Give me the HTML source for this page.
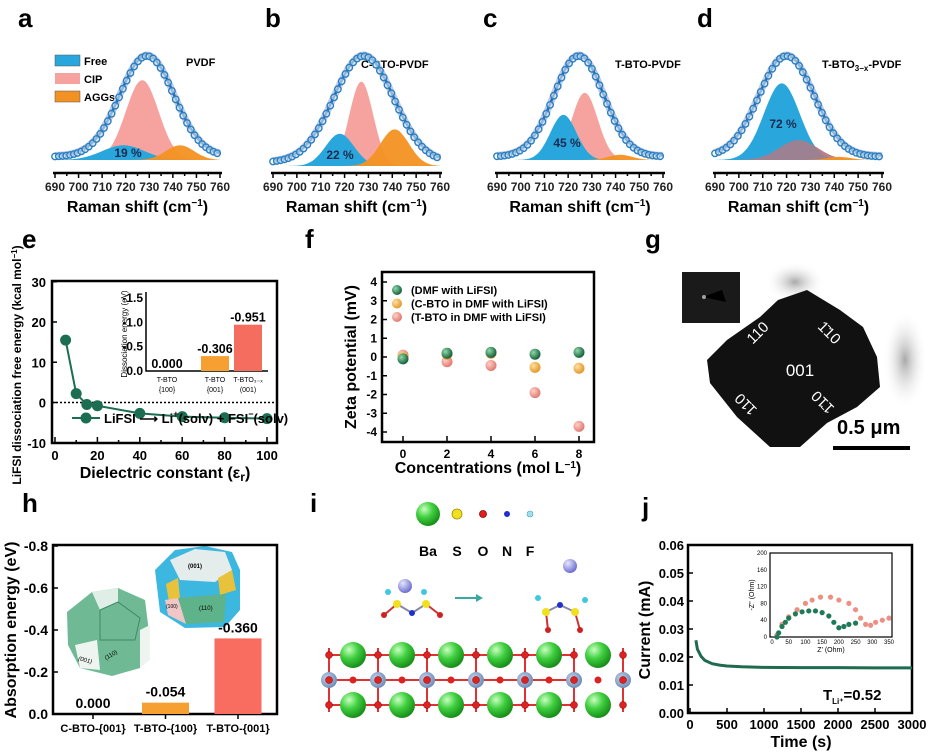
<!DOCTYPE html>
<html><head><meta charset="utf-8"><style>
html,body{margin:0;padding:0;background:#fff;}
svg{display:block;font-family:"Liberation Sans",Arial,sans-serif;}
.b{font-weight:bold;}
</style></head><body>
<svg id="fig" width="930" height="752" viewBox="0 0 930 752" xmlns="http://www.w3.org/2000/svg">
<defs>
<radialGradient id="gG" cx="35%" cy="35%" r="65%"><stop offset="0" stop-color="#8fd9a8"/><stop offset="1" stop-color="#17613f"/></radialGradient>
<radialGradient id="gO" cx="35%" cy="35%" r="65%"><stop offset="0" stop-color="#ffe0a0"/><stop offset="1" stop-color="#e29a2e"/></radialGradient>
<radialGradient id="gR" cx="35%" cy="35%" r="65%"><stop offset="0" stop-color="#ffd0c8"/><stop offset="1" stop-color="#e07c74"/></radialGradient>
<radialGradient id="ba" cx="35%" cy="30%" r="70%"><stop offset="0" stop-color="#c8ffc0"/><stop offset="0.5" stop-color="#3fcf3f"/><stop offset="1" stop-color="#1a8f1a"/></radialGradient>
<radialGradient id="li" cx="35%" cy="30%" r="70%"><stop offset="0" stop-color="#e6e6ff"/><stop offset="1" stop-color="#6f6fd0"/></radialGradient>
<radialGradient id="ti" cx="40%" cy="40%" r="60%"><stop offset="0" stop-color="#c9d8ee"/><stop offset="1" stop-color="#6f8db8"/></radialGradient>
<radialGradient id="blob" cx="50%" cy="50%" r="50%"><stop offset="0" stop-color="#a8a8a8"/><stop offset="1" stop-color="#ffffff" stop-opacity="0"/></radialGradient>
</defs>

<text x="18" y="27" font-size="26" class="b">a</text>
<text x="265" y="27" font-size="26" class="b">b</text>
<text x="483" y="27" font-size="26" class="b">c</text>
<text x="697" y="27" font-size="26" class="b">d</text>
<text x="22" y="248" font-size="26" class="b">e</text>
<text x="305" y="248" font-size="26" class="b">f</text>
<text x="645" y="248" font-size="26" class="b">g</text>
<text x="22" y="512" font-size="26" class="b">h</text>
<text x="310" y="512" font-size="26" class="b">i</text>
<text x="642" y="516" font-size="26" class="b">j</text>

<text x="186" y="66" font-size="11" class="b">PVDF</text>
<text x="361" y="68" font-size="11" class="b">C-BTO-PVDF</text>
<text x="615" y="68" font-size="11" class="b">T-BTO-PVDF</text>
<text x="822" y="68" font-size="11" class="b">T-BTO<tspan font-size="8" dy="3">3−x</tspan><tspan dy="-3">-PVDF</tspan></text>
<rect x="55" y="55" width="25" height="11" fill="#29a7dc" stroke="#555" stroke-width="0.5"/>
<text x="84" y="65" font-size="11" class="b">Free</text>
<rect x="55" y="73" width="25" height="11" fill="#f6a39f"/>
<text x="84" y="83" font-size="11" class="b">CIP</text>
<rect x="55" y="91" width="25" height="11" fill="#f39222" stroke="#555" stroke-width="0.5"/>
<text x="84" y="101" font-size="11" class="b">AGGs</text>

<text transform="translate(21,365) rotate(-90)" text-anchor="middle" font-size="12" class="b">LiFSI dissociation free energy (kcal mol<tspan dy="-4" font-size="8">−1</tspan><tspan dy="4">)</tspan></text>
<text x="165" y="478" text-anchor="middle" font-size="16" class="b">Dielectric constant (ε<tspan font-size="12" dy="3">r</tspan><tspan dy="-3">)</tspan></text>
<text x="127" y="334" transform="rotate(-90 127 334)" text-anchor="middle" font-size="8">Dissociation energy (eV)</text>

<text transform="translate(356,357) rotate(-90)" text-anchor="middle" font-size="16" class="b">Zeta potential (mV)</text>
<text x="488" y="473" text-anchor="middle" font-size="16" class="b">Concentrations (mol L<tspan dy="-5" font-size="10">−1</tspan><tspan dy="5">)</tspan></text>

<g>
<ellipse cx="795" cy="282" rx="30" ry="20" fill="url(#blob)"/>
<ellipse cx="905" cy="360" rx="22" ry="50" fill="url(#blob)"/>
<polygon points="778,300 807,290 840,310 863,327 877,357 880,387 857,407 827,423 800,447 770,447 737,417 710,383 707,360 727,340 760,317" fill="#111"/>
<rect x="682" y="272" width="58" height="51" fill="#1a1a1a"/>
<polygon points="703,297 722,290 726,302" fill="#000"/>
<circle cx="704" cy="297" r="2" fill="#fff" opacity="0.6"/>
<text x="800" y="376" text-anchor="middle" font-size="17" fill="#fff">001</text>
<text x="757" y="338" text-anchor="middle" font-size="15" fill="#fff" transform="rotate(-45 757 332)">110</text>
<text x="830" y="338" text-anchor="middle" font-size="15" fill="#fff" transform="rotate(45 830 332)">1̄10</text>
<text x="745" y="411" text-anchor="middle" font-size="15" fill="#fff" transform="rotate(225 745 405)">110</text>
<text x="822" y="409" text-anchor="middle" font-size="15" fill="#fff" transform="rotate(-135 822 403)">1̄10</text>
<text x="837" y="434" font-size="20" class="b" fill="#000">0.5 μm</text>
<rect x="833" y="446" width="77" height="4" fill="#000"/>
</g>

<text transform="translate(16,630) rotate(-90)" text-anchor="middle" font-size="16" class="b">Absorption energy (eV)</text>
<g>
<polygon points="67,612 92,592 118,588 145,600 150,640 140,668 112,676 80,668 68,645" fill="#5fb38a" opacity="0.9"/>
<polygon points="92,592 118,588 118,602 100,610" fill="#dfeee6"/>
<polygon points="75,645 97,640 100,670 80,668" fill="#eef5f0"/>
<polygon points="140,630 150,625 150,660 140,668" fill="#eef5f0"/>
<polyline points="100,610 118,602 140,618 135,640 100,640 100,610" fill="none" stroke="#3f8a67" stroke-width="1"/>
<text x="78" y="660" font-size="6" font-style="italic" transform="rotate(15 78 660)">(001)</text>
<text x="106" y="660" font-size="6" transform="rotate(-30 106 660)">(110)</text>
</g>
<g>
<polygon points="155,570 175,550 205,546 232,552 240,570 240,610 225,627 185,628 160,612" fill="#3cb7e0"/>
<polygon points="170,560 195,549 225,552 232,570 215,582 180,580" fill="#e5ecec"/>
<polygon points="166,584 178,578 180,598 170,608" fill="#e8c23a"/>
<polygon points="218,578 232,570 236,590 220,595" fill="#e8c23a"/>
<polygon points="178,598 226,594 224,622 186,624" fill="#5fb38a"/>
<polygon points="165,600 178,598 186,624 168,615" fill="#f1c6c6"/>
<text x="188" y="568" font-size="6" class="b">(001)</text>
<text x="166" y="608" font-size="5">(100)</text>
<text x="199" y="610" font-size="6">(110)</text>
</g>

<g>
<circle cx="428" cy="514" r="12" fill="url(#ba)"/>
<circle cx="457" cy="514" r="5" fill="#f0e020" stroke="#a09000" stroke-width="0.8"/>
<circle cx="483" cy="514" r="3.5" fill="#e02020" stroke="#800" stroke-width="0.8"/>
<circle cx="507" cy="514" r="3" fill="#2030d0"/>
<circle cx="530" cy="514" r="3" fill="#9fe0f0" stroke="#59a" stroke-width="0.6"/>
<text x="428" y="556" text-anchor="middle" font-size="14" class="b">Ba</text>
<text x="457" y="556" text-anchor="middle" font-size="14" class="b">S</text>
<text x="483" y="556" text-anchor="middle" font-size="14" class="b">O</text>
<text x="507" y="556" text-anchor="middle" font-size="14" class="b">N</text>
<text x="530" y="556" text-anchor="middle" font-size="14" class="b">F</text>
</g>
<g>
<line x1="384" y1="615" x2="397" y2="604" stroke="#c33" stroke-width="2"/>
<line x1="397" y1="604" x2="412" y2="613" stroke="#88a" stroke-width="2"/>
<line x1="412" y1="613" x2="426" y2="604" stroke="#88a" stroke-width="2"/>
<line x1="426" y1="604" x2="440" y2="615" stroke="#c33" stroke-width="2"/>
<circle cx="405" cy="586" r="7" fill="url(#li)"/>
<circle cx="388" cy="592" r="3" fill="#40c8e0"/><circle cx="424" cy="592" r="3" fill="#40c8e0"/>
<circle cx="397" cy="604" r="4" fill="#f0e020"/><circle cx="426" cy="604" r="4" fill="#f0e020"/>
<circle cx="412" cy="613" r="3" fill="#2030d0"/>
<circle cx="384" cy="615" r="3" fill="#d02020"/><circle cx="440" cy="615" r="3" fill="#d02020"/>
</g>
<line x1="455" y1="598" x2="476" y2="598" stroke="#3aa8a0" stroke-width="2"/>
<polygon points="476,594 483,598 476,602" fill="#3aa8a0"/>
<g>
<circle cx="570" cy="566" r="7" fill="url(#li)"/>
<line x1="546" y1="612" x2="548" y2="630" stroke="#c33" stroke-width="2"/>
<line x1="546" y1="612" x2="560" y2="605" stroke="#88a" stroke-width="2"/>
<line x1="560" y1="605" x2="575" y2="612" stroke="#88a" stroke-width="2"/>
<line x1="575" y1="612" x2="580" y2="630" stroke="#c33" stroke-width="2"/>
<circle cx="538" cy="598" r="3" fill="#40c8e0"/><circle cx="585" cy="600" r="3" fill="#40c8e0"/>
<circle cx="546" cy="612" r="4" fill="#f0e020"/><circle cx="575" cy="612" r="4" fill="#f0e020"/>
<circle cx="560" cy="605" r="3" fill="#2030d0"/>
<circle cx="548" cy="630" r="3" fill="#d02020"/><circle cx="580" cy="630" r="3" fill="#d02020"/>
</g>
<g id="slab"></g>

<text transform="translate(650,630) rotate(-90)" text-anchor="middle" font-size="16" class="b">Current (mA)</text>
<text x="801" y="747" text-anchor="middle" font-size="16" class="b">Time (s)</text>
<text x="823" y="700" font-size="15" class="b">T<tspan font-size="8" dy="4">Li⁺</tspan><tspan dy="-4">=0.52</tspan></text>
<text x="831" y="652" text-anchor="middle" font-size="7">Z' (Ohm)</text>
<text transform="translate(754,595) rotate(-90)" text-anchor="middle" font-size="7">-Z'' (Ohm)</text>
<circle cx="810" cy="565" r="2.5" fill="#1f7a58"/>
<text x="818" y="568" font-size="7.5" class="b">Before polarization</text>
<circle cx="810" cy="574" r="2.5" fill="#ee8f84"/>
<text x="818" y="577" font-size="7.5" class="b">After polarization</text>
</svg>

<script>
const NS='http://www.w3.org/2000/svg';
const svg=document.getElementById('fig');
function add(tag,attrs,text,parent){const e=document.createElementNS(NS,tag);for(const k in attrs)e.setAttribute(k,attrs[k]);if(text!==undefined)e.textContent=text;(parent||svg).appendChild(e);return e;}

/* ---------- panels a-d data ---------- */
const ramanTicks=[690,700,710,720,730,740,750,760];
const freeCenter=[719,718,718,718];
const freeSigma=[9,6,5.5,7.5];
const freeHeight=[0.14,0.29,0.43,0.73];
const cipCenter=[727,727,727,725];
const cipSigma=[7,5,5.5,8];
const cipHeight=[0.76,0.76,0.64,0.19];
const aggCenter=[743,741,742,742];
const aggSigma=[6,6,5,5];
const aggHeight=[0.14,0.33,0.05,0.03];
const envCenter=[729,728,724.5,720];
const envSigma=[11.5,12.5,10.5,11.5];
const freePercent=['19 %','22 %','45 %','72 %'];

const ramanLeft=[55,273,497,715],ramanRight=[220,440,663,882],ramanBase=[160,166,160,160];
const pctPos=[[128,157],[340,159],[567,147],[783,128]];
function gauss(x,c,s,h){return h*Math.exp(-0.5*((x-c)/s)**2);}
for(let p=0;p<4;p++){
  const sx=v=>ramanLeft[p]+(v-690)*(ramanRight[p]-ramanLeft[p])/70;
  const H=ramanBase[p]-55;
  const sy=v=>ramanBase[p]-v*H;
  function area(c,s,h){let d='M'+sx(690)+','+sy(0);for(let x=690;x<=760;x+=0.5)d+=' L'+sx(x).toFixed(1)+','+sy(gauss(x,c,s,h)).toFixed(1);d+=' L'+sx(760)+','+sy(0)+'Z';return d;}
  const env=x=>0.04+0.96*gauss(x,envCenter[p],envSigma[p],1);
  let d='';for(let x=690;x<=760;x+=0.5)d+=(d?' L':'M')+sx(x).toFixed(1)+','+sy(env(x)).toFixed(1);
  const fitBack=add('path',{d:d,fill:'none',stroke:'#bfcaeb','stroke-width':7});
  
  
  const cip=add('path',{d:area(cipCenter[p],cipSigma[p],cipHeight[p]),fill:'#f6a39f'});
  
  
  const fr=add('path',{d:area(freeCenter[p],freeSigma[p],freeHeight[p]),fill:'#29a7dc'});
  
  
  if(p===3){const c2=add('path',{d:area(cipCenter[p],cipSigma[p],cipHeight[p]),fill:'#b07a86',opacity:0.85});
    
    }
  const ag=add('path',{d:area(aggCenter[p],aggSigma[p],aggHeight[p]),fill:'#f39222',opacity:0.95});
  
  
  const fit=add('path',{d:d,fill:'none',stroke:'#1f6db3','stroke-width':2.5});
  
  
  for(let x=690;x<=760;x+=1.6){
    const c=add('circle',{cx:sx(x).toFixed(1),cy:(sy(env(x))+1).toFixed(1),r:3.2,fill:'#fff','fill-opacity':0.5,stroke:'#2a7fc0','stroke-width':1.4});
    
    
  }
  const pt=add('text',{x:pctPos[p][0],y:pctPos[p][1],'text-anchor':'middle','font-size':12,'font-weight':'bold',fill:'#1a2a50'},freePercent[p]);
  
  
  const ax=add('line',{x1:sx(690)-2,x2:sx(760)+2,y1:173,y2:173,stroke:'#000','stroke-width':2.5});
  
  
  for(let v=690;v<=760;v+=5){
    const t=add('line',{x1:sx(v),x2:sx(v),y1:173,y2:v%10===0?178:176,stroke:'#000','stroke-width':1.5});
    
    
  }
  ramanTicks.forEach(v=>{
    const t=add('text',{x:sx(v),y:191,'text-anchor':'middle','font-size':12,'font-weight':'bold',fill:'#222'},String(v));
    
    
  });
  const ti=add('text',{x:(sx(690)+sx(760))/2,y:212,'text-anchor':'middle','font-size':16,'font-weight':'bold'});
  ti.innerHTML='Raman shift (cm<tspan dy="-6" font-size="10">−1</tspan><tspan dy="6">)</tspan>';
  
  
}

/* ---------- panel e ---------- */
const eDielectric=[5,10,15,20,40,60,80,100];
const eEnergy=[15.5,2.2,-0.5,-0.8,-2.7,-3.5,-3.8,-4.0];
const eXTicks=[0,20,40,60,80,100];
const eYTicks=[30,20,10,0,-10];
const eInsetCats=[['T-BTO','{100}'],['T-BTO','{001}'],['T-BTO₃₋ₓ','(001)']];
const eInsetVals=[0.000,0.306,0.951];
const eInsetLabels=['0.000','-0.306','-0.951'];
const eInsetTicks=[1.5,1.0,0.5,0.0];
const xE=v=>55+v*2.12, yE=v=>402.5-v*4.025;
{
  const fr=add('rect',{x:52,y:281,width:225,height:162,fill:'none',stroke:'#000','stroke-width':2.5});
  
  
  const zl=add('line',{x1:52,x2:277,y1:yE(0),y2:yE(0),stroke:'#000','stroke-width':1.5,'stroke-dasharray':'2,2'});
  
  
  eYTicks.forEach(v=>{
    const t=add('text',{x:46,y:yE(v)+5,'text-anchor':'end','font-size':13,'font-weight':'bold'},String(v));
    
    
    const l=add('line',{x1:52,x2:57,y1:yE(v),y2:yE(v),stroke:'#000','stroke-width':1.5});
    
    
  });
  eXTicks.forEach(v=>{
    const t=add('text',{x:xE(v),y:460,'text-anchor':'middle','font-size':13,'font-weight':'bold'},String(v));
    
    
  });
  for(let v=0;v<=100;v+=10){const l=add('line',{x1:xE(v),x2:xE(v),y1:443,y2:v%20===0?437:440,stroke:'#000','stroke-width':1.5});
    
    }
  const ln=add('polyline',{points:eDielectric.map((d,i)=>xE(d)+','+yE(eEnergy[i])).join(' '),fill:'none',stroke:'#1b6e52','stroke-width':2});
  
  
  eDielectric.forEach((d,i)=>{const c=add('circle',{cx:xE(d),cy:yE(eEnergy[i]),r:5.5,fill:'#1b6e52'});
    
    });
  const lg=add('line',{x1:72,x2:100,y1:418,y2:418,stroke:'#1b6e52','stroke-width':2});
  
  
  const lm=add('circle',{cx:86,cy:418,r:5.5,fill:'#1b6e52'});
  
  
  const lt=add('text',{x:104,y:423,'font-size':13,'font-weight':'bold'});
  lt.innerHTML='LiFSI ⟶ Li<tspan dy="-6" font-size="9">+</tspan><tspan dy="6">(solv) + FSI</tspan><tspan dy="-6" font-size="9">−</tspan><tspan dy="6">(solv)</tspan>';
  
  
  const yI=v=>371-v*48.7; const xI=[167,215,248];
  const ib=add('polyline',{points:'146,292 146,371 268,371',fill:'none',stroke:'#000','stroke-width':1.5});
  
  
  eInsetTicks.forEach(v=>{
    const t=add('text',{x:143,y:yI(v)+4,'text-anchor':'end','font-size':12,'font-weight':'bold'},v===0?'0.0':'-'+v.toFixed(1));
    
    
  });
  const cols=['#f5a030','#f5a030','#f56d5e'];
  eInsetVals.forEach((v,i)=>{
    const r=add('rect',{x:xI[i]-14,y:yI(v),width:28,height:371-yI(v),fill:cols[i]});
    
    
    const t=add('text',{x:xI[i],y:yI(v)-3,'text-anchor':'middle','font-size':12.5,'font-weight':'bold'},eInsetLabels[i]);
    
    
    const c1=add('text',{x:xI[i],y:382,'text-anchor':'middle','font-size':7},eInsetCats[i][0]);
    
    
    const c2=add('text',{x:xI[i],y:392,'text-anchor':'middle','font-size':7},eInsetCats[i][1]);
    
    
  });
}

/* ---------- panel f ---------- */
const fConc=[0,2,4,6,8];
const fDMF=[-0.1,0.2,0.25,0.15,0.25];
const fCBTO=[0.0,0.15,0.2,-0.55,-0.6];
const fTBTO=[0.1,-0.25,-0.45,-1.9,-3.7];
const fYTicks=[4,3,2,1,0,-1,-2,-3,-4];
const fSeriesNames=['(DMF with LiFSI)','(C-BTO in DMF with LiFSI)','(T-BTO in DMF with LiFSI)'];
const xF=v=>403+v*22, yF=v=>357-v*18.75;
{
  const fr=add('rect',{x:382,y:272,width:212,height:170,fill:'none',stroke:'#000','stroke-width':2.5});
  
  
  fYTicks.forEach(v=>{
    const t=add('text',{x:377,y:yF(v)+4,'text-anchor':'end','font-size':12,'font-weight':'bold'},String(v));
    
    
    const l=add('line',{x1:382,x2:387,y1:yF(v),y2:yF(v),stroke:'#000','stroke-width':1.5});
    
    
  });
  fConc.forEach(v=>{
    const t=add('text',{x:xF(v),y:458,'text-anchor':'middle','font-size':12,'font-weight':'bold'},String(v));
    
    
    const l=add('line',{x1:xF(v),x2:xF(v),y1:442,y2:436,stroke:'#000','stroke-width':1.5});
    
    
  });
  const series=[[fTBTO,'url(#gR)'],[fCBTO,'url(#gO)'],[fDMF,'url(#gG)']];
  series.forEach(s=>{
    fConc.forEach((c,i)=>{
      const m=add('circle',{cx:xF(c),cy:yF(s[0][i]),r:5.5,fill:s[1]});
      
      
    });
  });
  const lfill=['url(#gG)','url(#gO)','url(#gR)'];
  fSeriesNames.forEach((n,i)=>{
    const m=add('circle',{cx:397,cy:290+i*13.5,r:5,fill:lfill[i]});
    
    
    const t=add('text',{x:411,y:294+i*13.5,'font-size':11,'font-weight':'bold'},n);
    
    
  });
}

/* ---------- panel h ---------- */
const hCats=['C-BTO-{001}','T-BTO-{100}','T-BTO-{001}'];
const hVals=[0.000,0.054,0.360];
const hLabels=['0.000','-0.054','-0.360'];
const hYTicks=[0.8,0.6,0.4,0.2,0.0];
const yH=v=>714-v*210; const xH=i=>93+i*72.5;
{
  const fr=add('rect',{x:53,y:545,width:224,height:169,fill:'none',stroke:'#000','stroke-width':2.5});
  
  
  hYTicks.forEach(v=>{
    const t=add('text',{x:48,y:yH(v)+5,'text-anchor':'end','font-size':14,'font-weight':'bold'},v===0?'0.0':'-'+v.toFixed(1));
    
    
    const l=add('line',{x1:53,x2:58,y1:yH(v),y2:yH(v),stroke:'#000','stroke-width':1.5});
    
    
  });
  const cols=['#f5a030','#f5a030','#f86d5f'];
  hCats.forEach((c,i)=>{
    const r=add('rect',{x:xH(i)-23.5,y:yH(hVals[i]),width:47,height:714-yH(hVals[i]),fill:cols[i]});
    
    
    const v=add('text',{x:xH(i),y:yH(hVals[i])-6,'text-anchor':'middle','font-size':14,'font-weight':'bold'},hLabels[i]);
    
    
    const t=add('text',{x:xH(i),y:732,'text-anchor':'middle','font-size':11,'font-weight':'bold'},c);
    
    
    const l=add('line',{x1:xH(i),x2:xH(i),y1:714,y2:719,stroke:'#000','stroke-width':1.5});
    
    
  });
}

/* ---------- panel i slab ---------- */
{
  const slab=document.getElementById('slab');
  for(let k=0;k<7;k++){const x=329+k*49;
    for(const y of [655,680,705]){
      const l=add('line',{x1:x,x2:x+49>620?x:x+49,y1:y,y2:y,stroke:'#d33','stroke-width':2},undefined,slab);
      
      
    }
    const v=add('line',{x1:x,x2:x,y1:648,y2:712,stroke:'#d33','stroke-width':2},undefined,slab);
    
    
  }
  for(let k=0;k<6;k++){const x=353+k*49;
    for(const y of [655,705]){
      const b=add('circle',{cx:x,cy:y,r:13,fill:'url(#ba)'},undefined,slab);
      
      
    }
    const o=add('circle',{cx:x,cy:680,r:3.5,fill:'#d22'},undefined,slab);
    
    
  }
  for(let k=0;k<7;k++){const x=329+k*49;
    const t=add('circle',{cx:x,cy:680,r:8,fill:'url(#ti)'},undefined,slab);
    
    
    for(const y of [655,680,705]){
      const o=add('circle',{cx:x,cy:y,r:3.5,fill:'#d22',stroke:'#800','stroke-width':0.5},undefined,slab);
      
      
    }
  }
}

/* ---------- panel j ---------- */
const jTime=[80,100,150,200,300,400,500,700,1000,1500,2000,2500,3000];
const jCurrent=[0.026,0.0228,0.0202,0.0188,0.0176,0.0171,0.0168,0.0165,0.0163,0.0162,0.0162,0.0161,0.0161];
const jXTicks=[0,500,1000,1500,2000,2500,3000];
const jYTicks=[0.00,0.01,0.02,0.03,0.04,0.05,0.06];
const jBeforeRe=[15,20,30,40,50,70,90,110,130,150,170,185,200,215,230,250];
const jBeforeIm=[0,10,25,35,45,55,60,62,62,58,50,35,22,25,30,33];
const jAfterRe=[15,30,50,75,100,120,145,175,200,230,250,265,280,295,310,330,350];
const jAfterIm=[5,30,48,65,80,88,95,95,88,80,65,45,30,28,35,40,45];
const jInsetXTicks=[0,50,100,150,200,250,300,350];
const jInsetYTicks=[0,40,80,120,160,200];
const xJ=v=>690+v*0.074, yJ=v=>713-v*2800;
{
  const fr=add('rect',{x:688,y:545,width:224,height:168,fill:'none',stroke:'#000','stroke-width':2.5});
  
  
  jYTicks.forEach(v=>{
    const t=add('text',{x:684,y:yJ(v)+5,'text-anchor':'end','font-size':13,'font-weight':'bold'},v.toFixed(2));
    
    
    const l=add('line',{x1:688,x2:693,y1:yJ(v),y2:yJ(v),stroke:'#000','stroke-width':1.5});
    
    
  });
  jXTicks.forEach(v=>{
    const t=add('text',{x:xJ(v),y:729,'text-anchor':'middle','font-size':13,'font-weight':'bold'},String(v));
    
    
    const l=add('line',{x1:xJ(v),x2:xJ(v),y1:713,y2:708,stroke:'#000','stroke-width':1.5});
    
    
  });
  const cur=add('polyline',{points:jTime.map((t,i)=>xJ(t).toFixed(1)+','+yJ(jCurrent[i]).toFixed(1)).join(' '),fill:'none',stroke:'#1f6b50','stroke-width':3});
  
  
  const xi=v=>772+v*117/350, yi=v=>637-v*0.42;
  const ib=add('rect',{x:770,y:553,width:122,height:84,fill:'#fff',stroke:'#000','stroke-width':1.2});
  
  
  jInsetXTicks.forEach(v=>{
    const t=add('text',{x:xi(v),y:644,'text-anchor':'middle','font-size':6},String(v));
    
    
  });
  jInsetYTicks.forEach(v=>{
    const t=add('text',{x:767,y:yi(v)+2,'text-anchor':'end','font-size':6},String(v));
    
    
  });
  jAfterRe.forEach((r,i)=>{
    const c=add('circle',{cx:xi(r),cy:yi(jAfterIm[i]),r:2.6,fill:'#ee8f84'});
    
    
  });
  jBeforeRe.forEach((r,i)=>{
    const c=add('circle',{cx:xi(r),cy:yi(jBeforeIm[i]),r:2.6,fill:'#1f7a58'});
    
    
  });
}
</script>
</body></html>
